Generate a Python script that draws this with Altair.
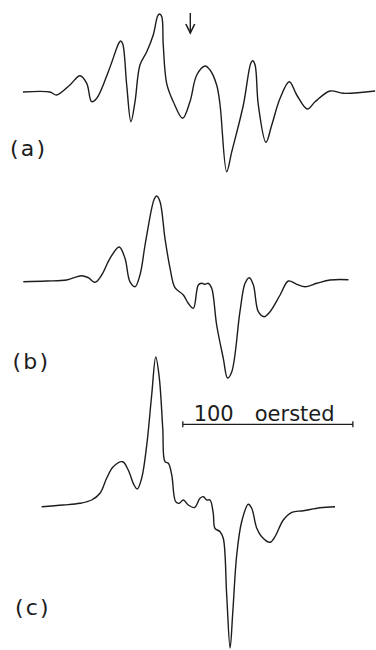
import altair as alt
import pandas as pd

# Derivative EPR spectra, magnetic field in oersted (relative), signal in arbitrary units

# --- trace (a) ---
a_field = [0, 15.9, 19.8, 27.6, 33.5, 37.5, 40.4, 43.4, 50.2, 55.1, 56.4, 57.5, 58.7,
           61.0, 63.5, 65.9, 68.8, 72.8, 76.6, 79.2, 80.3, 81.6, 82.5, 84.5, 88.4,
           93.9, 98.2, 102.2, 107.1, 110.0, 113.9, 115.9, 119.8, 122.8, 129.6,
           134.0, 135.1, 136.5, 138.4, 142.9, 146.3, 151.2, 156.6, 161.0, 167.2,
           171.8, 180.6, 188.4, 207.1]
a_signal = [0, 0, -3, 7, 16.3, 8.7, -9.7, -6.3, 20.3, 43.7, 49, 51, 48,
            7, -29.7, -9.7, 27, 40.3, 57, 76, 78, 75.5, 47, 8.7, -9.7,
            -26.3, -9.7, 17, 26, 22, 7, -13, -79.7, -59.7, -13,
            29, 31.3, 27, -13, -50.3, -33, -6.3, 10.3, -3, -17,
            -9.7, 1, -1.3, 1]

# --- trace (b) ---
b_field = [0.2, 13.9, 25.7, 34.5, 38.4, 42.4, 46.3, 51.2, 56.6, 60.0, 62.9, 65.9,
           68.8, 71.8, 75.7, 77.2, 78.6, 80.6, 83.5, 86.5, 89.4, 94.3, 97.2, 100.2,
           103.1, 105.1, 107.1, 109.0, 111.0, 113.9, 117.8, 120.3, 122.8, 127.6,
           130.6, 133.1, 135.5, 138.4, 141.8, 145.3, 151.2, 156.1, 161.0, 165.9,
           172.8, 180.6, 191.4]
b_signal = [-0.7, 0, 1, 5.3, 3.3, -1.3, 6, 22.7, 34, 22.7, -0.7, -5.7,
            6, 36, 72.7, 82, 85, 79.3, 42.7, 12.7, -6.7, -14, -22.3, -27.3,
            -4, -2.3, -3.3, -2.3, -7.3, -44, -77.3, -97, -90.7, -30.7,
            -2.3, 3.3, -4, -30.7, -35.7, -30.7, -14, 0, -3.3, -5.7,
            -2.3, 1, 1.3]

# --- trace (c) ---
c_field = [11.0, 23.7, 33.5, 40.4, 45.3, 49.2, 53.1, 58.6, 61.9, 65.3, 67.2, 69.8,
           72.8, 75.7, 78.1, 80.2, 82.2, 83.5, 85.5, 87.5, 89.8, 91.9, 94.3, 97.2,
           100.9, 104.1, 106.1, 108.1, 110.0, 111.9, 112.9, 115.9, 117.8, 119.8,
           121.8, 123.4, 125.7, 128.6, 132.5, 134.5, 137.5, 140.4, 145.3, 148.2,
           153.1, 158.1, 164.9, 174.7, 183.5]
c_signal = [-0.7, 1, 2.7, 6, 12.7, 27.7, 39.3, 44.3, 36, 21, 17, 27.7,
            61, 111, 149, 127.7, 77.7, 44.3, 42.7, 31, 4.3, 2.7, 6, 1,
            -1.5, 7.7, 9.3, 6, 6, -7.3, -22.3, -25.7, -32.3, -89,
            -142, -105.7, -49, -15.7, 1.7, -2.3, -22.3, -30.7, -36.3, -30.7,
            -14, -6.3, -4.7, -1.7, -0.7]

# vertical stacking of the three traces
offsets = {"a": 558, "b": 369, "c": 144}
labels = {"a": "(\u200aa\u200a)", "b": "(\u200ab\u200a)", "c": "(\u200ac\u200a)"}
label_pos = {"a": (-7.6, 501), "b": (-6.1, 288.5), "c": (-4.7, 42.5)}

rows = []
for key, fld, sig in (("a", a_field, a_signal), ("b", b_field, b_signal), ("c", c_field, c_signal)):
    for f, s in zip(fld, sig):
        rows.append({"trace": key, "field": f, "y": s + offsets[key]})
spectra = pd.DataFrame(rows)

lab_df = pd.DataFrame([
    {"trace": k, "field": label_pos[k][0], "y": label_pos[k][1], "text": labels[k]}
    for k in ("a", "b", "c")
])

# 100-oersted scale bar
bar_start, bar_len, bar_y = 94.0, 100.0, 225.7
bar_df = pd.DataFrame([{"x1": bar_start, "x2": bar_start + bar_len, "y": bar_y}])
cap_df = pd.DataFrame([
    {"x": bar_start, "y1": bar_y - 3, "y2": bar_y + 3},
    {"x": bar_start + bar_len, "y1": bar_y - 3, "y2": bar_y + 3},
])
bar_text = pd.DataFrame([{"x": bar_start + bar_len / 2 - 2.2, "y": bar_y + 3.5,
                          "text": "100\u2003oersted"}])

# arrow marking a field position on trace (a)
arrow_x = 98.4
shaft_df = pd.DataFrame([{"x": arrow_x, "y1": 617, "y2": 637}])
head_df = pd.DataFrame([
    {"x": arrow_x - 2.6, "y": 626, "o": 0},
    {"x": arrow_x, "y": 617, "o": 1},
    {"x": arrow_x + 2.6, "y": 626, "o": 2},
])

xs = alt.Scale(domain=[-13.5, 207.6], nice=False, zero=False)
ys = alt.Scale(domain=[0, 650], nice=False, zero=False)
ink = "#1c1c1c"
font = "DejaVu Sans"

lines = alt.Chart(spectra).mark_line(
    color=ink, strokeWidth=1.4, interpolate="catmull-rom"
).encode(
    x=alt.X("field:Q", scale=xs, axis=None),
    y=alt.Y("y:Q", scale=ys, axis=None),
    detail="trace:N",
)

label_marks = alt.Chart(lab_df).mark_text(
    align="left", baseline="middle", fontSize=22, font=font, color=ink
).encode(x=alt.X("field:Q", scale=xs), y=alt.Y("y:Q", scale=ys), text="text:N")

bar = alt.Chart(bar_df).mark_rule(color=ink, strokeWidth=1.3).encode(
    x=alt.X("x1:Q", scale=xs), x2="x2:Q", y=alt.Y("y:Q", scale=ys)
)
caps = alt.Chart(cap_df).mark_rule(color=ink, strokeWidth=1.3).encode(
    x=alt.X("x:Q", scale=xs), y=alt.Y("y1:Q", scale=ys), y2="y2:Q"
)
bar_label = alt.Chart(bar_text).mark_text(
    align="center", baseline="alphabetic", fontSize=21, font=font, color=ink
).encode(x=alt.X("x:Q", scale=xs), y=alt.Y("y:Q", scale=ys), text="text:N")

shaft = alt.Chart(shaft_df).mark_rule(color=ink, strokeWidth=1.4).encode(
    x=alt.X("x:Q", scale=xs), y=alt.Y("y1:Q", scale=ys), y2="y2:Q"
)
head = alt.Chart(head_df).mark_line(color=ink, strokeWidth=1.6).encode(
    x=alt.X("x:Q", scale=xs), y=alt.Y("y:Q", scale=ys), order="o:Q"
)

chart = alt.layer(lines, label_marks, bar, caps, bar_label, shaft, head).properties(
    width=376, height=650, autosize=alt.AutoSizeParams(type="none"), padding=0,
    background="white",
).configure_view(stroke=None)

chart.save("out.html", embed_options={"renderer": "svg", "actions": False})
